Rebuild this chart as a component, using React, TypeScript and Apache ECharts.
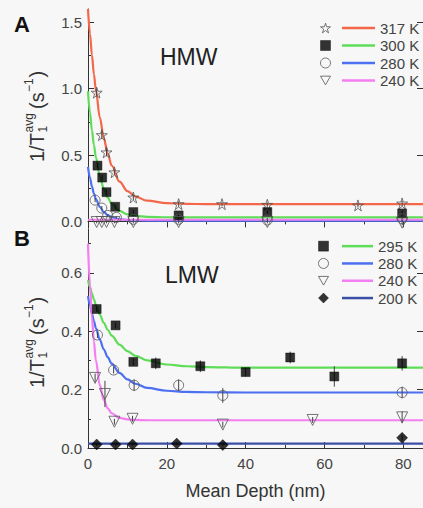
import React, { useEffect, useRef } from "react";
import * as echarts from "echarts";

// ---------- data ----------
// fitted curves
const fitX = [0, 0.5, 1, 1.5, 2, 3, 4, 5, 6, 8, 10, 12, 15, 20, 25, 30, 40, 60, 85];
const flatX = [0, 85];

const hmwFit317 = [1.6, 1.415, 1.252, 1.11, 0.987, 0.784, 0.628, 0.511, 0.421, 0.299, 0.228, 0.187, 0.156, 0.137, 0.132, 0.13, 0.13, 0.13, 0.13];
const hmwFit300 = [0.98, 0.819, 0.686, 0.575, 0.483, 0.343, 0.246, 0.179, 0.133, 0.079, 0.053, 0.041, 0.034, 0.031, 0.03, 0.03, 0.03, 0.03, 0.03];
const hmwFit280 = [0.41, 0.328, 0.262, 0.21, 0.168, 0.109, 0.071, 0.047, 0.031, 0.016, 0.009, 0.007, 0.006, 0.005, 0.005, 0.005, 0.005, 0.005, 0.005];
const hmwFit240 = [0.012, 0.012];

const lmwFit295 = [0.575, 0.551, 0.529, 0.509, 0.49, 0.457, 0.429, 0.405, 0.385, 0.354, 0.332, 0.316, 0.3, 0.286, 0.28, 0.277, 0.275, 0.275, 0.275];
const lmwFit280 = [0.52, 0.489, 0.46, 0.435, 0.411, 0.371, 0.338, 0.311, 0.289, 0.257, 0.235, 0.22, 0.206, 0.196, 0.192, 0.191, 0.19, 0.19, 0.19];
const lmwFit240 = [0.7, 0.557, 0.448, 0.364, 0.3, 0.215, 0.165, 0.136, 0.119, 0.103, 0.098, 0.096, 0.095, 0.095, 0.095, 0.095, 0.095, 0.095, 0.095];
const lmwFit200 = [0.015, 0.015];

// measured points, panel A (HMW)
const hmw317X = [2.2, 3.5, 4.7, 6.7, 11.5, 23, 34, 45.5, 68.5, 79.7];
const hmw317Y = [0.97, 0.65, 0.52, 0.37, 0.18, 0.13, 0.13, 0.125, 0.12, 0.135];
const hmw317E = [0.03, 0.03, 0.03, 0.02, 0.02, 0.02, 0.015, 0.015, 0.015, 0.02];
const hmw300X = [2.4, 3.6, 4.7, 6.9, 11.5, 23, 45.5, 79.7];
const hmw300Y = [0.42, 0.33, 0.22, 0.11, 0.07, 0.045, 0.07, 0.06];
const hmw300E = [0.02, 0.02, 0.02, 0.015, 0.015, 0.015, 0.015, 0.02];
const hmw280X = [1.8, 3.5, 5.0, 7.2, 11.5, 23, 45.5, 79.7];
const hmw280Y = [0.16, 0.1, 0.045, 0.03, 0.015, 0.015, 0.01, 0.02];
const hmw280E = [0.015, 0.015, 0.01, 0.01, 0.01, 0.01, 0.015, 0.02];
const hmw240X = [2.2, 3.5, 4.7, 6.7, 11.5, 23, 45.5, 79.7];
const hmw240Y = [-0.005, -0.005, -0.005, -0.005, -0.005, -0.005, -0.005, -0.01];
const hmw240E = [0.01, 0.01, 0.01, 0.01, 0.01, 0.01, 0.01, 0.02];

// measured points, panel B (LMW)
const lmw295X = [2.2, 7, 11.5, 17.2, 28.5, 40, 51.3, 62.5, 79.7];
const lmw295Y = [0.476, 0.42, 0.295, 0.29, 0.28, 0.26, 0.31, 0.245, 0.29];
const lmw295E = [0.01, 0.01, 0.012, 0.02, 0.02, 0.015, 0.02, 0.035, 0.025];
const lmw280X = [2.4, 6.5, 11.7, 23, 34.2, 79.7];
const lmw280Y = [0.387, 0.267, 0.215, 0.215, 0.18, 0.19];
const lmw280E = [0.01, 0.012, 0.02, 0.02, 0.025, 0.02];
const lmw240X = [1.8, 4.3, 6.7, 11.3, 34.2, 57, 79.7];
const lmw240Y = [0.24, 0.185, 0.09, 0.1, 0.08, 0.096, 0.105];
const lmw240E = [0.015, 0.045, 0.01, 0.01, 0.01, 0.01, 0.02];
const lmw200X = [2.2, 7, 11.3, 22.5, 34.2, 79.7];
const lmw200Y = [0.012, 0.012, 0.012, 0.015, 0.01, 0.035];
const lmw200E = [0.005, 0.005, 0.005, 0.005, 0.005, 0.01];

// ticks
const depthMajor = [0, 20, 40, 60, 80];
const depthTop = [20, 40, 60, 80];
const depthMinor = [10, 30, 50, 70];
const hmwMajor = [0, 0.5, 1.0, 1.5];
const hmwMinor = [0.25, 0.75, 1.25];
const lmwMajor = [0, 0.2, 0.4, 0.6];
const lmwMinor = [0.1, 0.3, 0.5, 0.7];

const hmwLegend = ["317 K", "300 K", "280 K", "240 K"];
const lmwLegend = ["295 K", "280 K", "240 K", "200 K"];

// ---------- styles ----------
const FONT = "'Liberation Sans', Arial, Helvetica, sans-serif";
const AX = "#333";
const LBL = "#444";
const BG = "#f6f7f6";
const RED = "#f4674a";
const GREEN = "#5fdc58";
const BLUE = "#4d6ff2";
const PINK = "#f47ef2";
const NAVY = "#3a4ea6";
const STAR = "path://M50,2 L61,37 L98,37 L68,59 L79,95 L50,73 L21,95 L32,59 L2,37 L39,37 Z";
const TRI_DOWN = "path://M0,0 L100,0 L50,87 Z";
const OPEN_STYLE = { color: "rgba(0,0,0,0)", borderColor: "#555", borderWidth: 1 };
const FILLED_STYLE = { color: "#000", borderColor: "#000", borderWidth: 0.5 };

const zip = (xs: number[], ys: number[]) => xs.map((x, i) => [x, ys[i]]);
const zip3 = (xs: number[], ys: number[], es: number[]) => xs.map((x, i) => [x, ys[i], es[i]]);

function fitLine(name: string, gi: number, xs: number[], ys: number[], color: string) {
  return {
    type: "line", name, xAxisIndex: gi, yAxisIndex: gi === 0 ? 0 : 2,
    data: zip(xs, ys), smooth: 0.35, smoothMonotone: "x", symbol: "none",
    lineStyle: { color, width: 2.2 }, itemStyle: { color }, z: 2, silent: true, clip: false,
  };
}

function points(name: string, gi: number, xs: number[], ys: number[], symbol: string, size: number, filled: boolean) {
  return {
    type: "scatter", name, xAxisIndex: gi, yAxisIndex: gi === 0 ? 0 : 2,
    data: zip(xs, ys), symbol, symbolSize: size, clip: false,
    itemStyle: filled ? FILLED_STYLE : OPEN_STYLE,
    z: 4, silent: true,
  };
}

function errBars(gi: number, xs: number[], ys: number[], es: number[]) {
  return {
    type: "custom", xAxisIndex: gi, yAxisIndex: gi === 0 ? 0 : 2,
    data: zip3(xs, ys, es), encode: { x: 0, y: 1 }, z: 3, silent: true, clip: false,
    renderItem: (params: any, api: any) => {
      const x = api.value(0), y = api.value(1), e = api.value(2);
      const p1 = api.coord([x, y - e]);
      const p2 = api.coord([x, y + e]);
      return {
        type: "line",
        shape: { x1: p1[0], y1: p1[1], x2: p2[0], y2: p2[1] },
        style: { stroke: "#444", lineWidth: 1 },
      };
    },
  };
}

function yTitle(cx: number, cy: number) {
  const t = (text: string, x: number, y: number, size: number) => ({
    type: "text", x, y,
    style: { text, font: `${size}px ${FONT}`, fill: "#333", verticalAlign: "middle", align: "left" },
  });
  return {
    type: "group", x: cx, y: cy + 46, rotation: Math.PI / 2,
    children: [
      t("1/T", 0, 0, 20),
      t("1", 29.5, 6, 12),
      t("avg", 29.5, -8, 12),
      t("(s", 53, 0, 20),
      t("\u22121", 70, -8, 12),
      t(")", 84.5, 0, 20),
    ],
  };
}

function symbolLegend(prefix: string, names: string[], icons: string[], open: boolean[], left: number, top: number, lh: number) {
  return {
    orient: "vertical", left, top, itemWidth: 10, itemHeight: 10, itemGap: 0, padding: 0,
    selectedMode: false, formatter: () => " ",
    textStyle: { fontSize: 15, lineHeight: lh, fontFamily: FONT },
    data: names.map((n, i) => ({
      name: prefix + n, icon: icons[i],
      itemStyle: open[i] ? OPEN_STYLE : FILLED_STYLE,
    })),
  };
}

function lineLegend(prefix: string, names: string[], left: number, top: number, w: number, lh: number) {
  return {
    orient: "vertical", left, top, itemWidth: w, itemHeight: 2.5, itemGap: 0, padding: 0,
    selectedMode: false, icon: "rect", itemStyle: { borderWidth: 0 },
    formatter: (n: string) => n.replace(/^(HMW|LMW) /, ""),
    textStyle: { fontSize: 15, lineHeight: lh, color: LBL, fontFamily: FONT },
    data: names.map((n) => prefix + n),
  };
}

const axisLineStyle = { show: true, lineStyle: { color: AX, width: 1 } };

export default function App() {
  const ref = useRef<HTMLDivElement>(null);
  useEffect(() => {
    if (!ref.current) return;
    const chart = echarts.init(ref.current, undefined, { renderer: "svg" });
    const gridA = { left: 88, top: 9, width: 340, height: 219 };
    const gridB = { left: 88, top: 229, width: 340, height: 219 };
    const baseX = { type: "value", min: 0, max: 85, splitLine: { show: false } };
    const option: any = {
      animation: false,
      backgroundColor: BG,
      textStyle: { fontFamily: FONT },
      grid: [gridA, gridB, { ...gridA }, { ...gridB }],
      xAxis: [
        { ...baseX, gridIndex: 0, position: "top", axisLine: axisLineStyle,
          axisTick: { show: true, inside: true, length: 6, customValues: depthTop, lineStyle: { color: AX } },
          axisLabel: { show: false } },
        { ...baseX, gridIndex: 1, position: "bottom", axisLine: axisLineStyle,
          axisTick: { show: true, inside: true, length: 6, customValues: depthMajor, lineStyle: { color: AX } },
          axisLabel: { show: true, customValues: depthMajor, margin: 8, fontSize: 15, color: LBL, fontFamily: FONT },
          name: "Mean Depth (nm)", nameLocation: "middle", nameGap: 34,
          nameTextStyle: { fontSize: 18, color: "#333", fontFamily: FONT } },
        { ...baseX, gridIndex: 2, position: "top", axisLine: { show: false },
          axisTick: { show: true, inside: true, length: 3, customValues: depthMinor, lineStyle: { color: AX } },
          axisLabel: { show: false } },
        { ...baseX, gridIndex: 3, position: "bottom", axisLine: { show: false },
          axisTick: { show: true, inside: true, length: 3, customValues: depthMinor, lineStyle: { color: AX } },
          axisLabel: { show: false } },
      ],
      yAxis: [
        { type: "value", gridIndex: 0, min: -0.05, max: 1.6, position: "left", axisLine: axisLineStyle, splitLine: { show: false },
          axisTick: { show: true, inside: true, length: 6, customValues: hmwMajor, lineStyle: { color: AX } },
          axisLabel: { show: true, customValues: hmwMajor, margin: 6, fontSize: 15, color: LBL, fontFamily: FONT,
            formatter: (v: number) => v.toFixed(1) } },
        { type: "value", gridIndex: 0, min: -0.05, max: 1.6, position: "right", axisLine: axisLineStyle, splitLine: { show: false },
          axisTick: { show: true, inside: true, length: 6, customValues: [0.5, 1.0, 1.5], lineStyle: { color: AX } },
          axisLabel: { show: false } },
        { type: "value", gridIndex: 1, min: 0, max: 0.75, position: "left", axisLine: axisLineStyle, splitLine: { show: false },
          axisTick: { show: true, inside: true, length: 6, customValues: lmwMajor, lineStyle: { color: AX } },
          axisLabel: { show: true, customValues: lmwMajor, margin: 6, fontSize: 15, color: LBL, fontFamily: FONT,
            formatter: (v: number) => v.toFixed(1) } },
        { type: "value", gridIndex: 1, min: 0, max: 0.75, position: "right", axisLine: axisLineStyle, splitLine: { show: false },
          axisTick: { show: true, inside: true, length: 6, customValues: [0.2, 0.4, 0.6], lineStyle: { color: AX } },
          axisLabel: { show: false } },
        { type: "value", gridIndex: 2, min: -0.05, max: 1.6, position: "left", axisLine: { show: false }, splitLine: { show: false },
          axisTick: { show: true, inside: true, length: 3, customValues: hmwMinor, lineStyle: { color: AX } },
          axisLabel: { show: false } },
        { type: "value", gridIndex: 3, min: 0, max: 0.75, position: "left", axisLine: { show: false }, splitLine: { show: false },
          axisTick: { show: true, inside: true, length: 3, customValues: lmwMinor, lineStyle: { color: AX } },
          axisLabel: { show: false } },
      ],
      legend: [
        symbolLegend("HMW pts ", hmwLegend, [STAR, "rect", "circle", TRI_DOWN], [true, false, true, true], 320, 19.25, 17.5),
        lineLegend("HMW ", hmwLegend, 342, 19.25, 33, 17.5),
        symbolLegend("LMW pts ", lmwLegend, ["rect", "circle", TRI_DOWN, "diamond"], [false, true, true, false], 318, 237.5, 17.3),
        lineLegend("LMW ", lmwLegend, 342, 237.5, 31, 17.3),
      ],
      graphic: [
        { type: "text", x: 14, y: 24, style: { text: "A", font: `bold 22px ${FONT}`, fill: "#111", verticalAlign: "middle" } },
        { type: "text", x: 14, y: 238, style: { text: "B", font: `bold 22px ${FONT}`, fill: "#111", verticalAlign: "middle" } },
        { type: "text", x: 160, y: 57, style: { text: "HMW", font: `23px ${FONT}`, fill: "#222", verticalAlign: "middle" } },
        { type: "text", x: 165, y: 275, style: { text: "LMW", font: `23px ${FONT}`, fill: "#222", verticalAlign: "middle" } },
        yTitle(37, 116),
        yTitle(37, 342),
      ],
      series: [
        fitLine("HMW 317 K", 0, fitX, hmwFit317, RED),
        fitLine("HMW 300 K", 0, fitX, hmwFit300, GREEN),
        fitLine("HMW 280 K", 0, fitX, hmwFit280, BLUE),
        fitLine("HMW 240 K", 0, flatX, hmwFit240, PINK),
        errBars(0, hmw317X, hmw317Y, hmw317E),
        errBars(0, hmw300X, hmw300Y, hmw300E),
        errBars(0, hmw280X, hmw280Y, hmw280E),
        errBars(0, hmw240X, hmw240Y, hmw240E),
        points("HMW pts 317 K", 0, hmw317X, hmw317Y, STAR, 11, false),
        points("HMW pts 300 K", 0, hmw300X, hmw300Y, "rect", 9, true),
        points("HMW pts 280 K", 0, hmw280X, hmw280Y, "circle", 10, false),
        points("HMW pts 240 K", 0, hmw240X, hmw240Y, TRI_DOWN, 11, false),

        fitLine("LMW 295 K", 1, fitX, lmwFit295, GREEN),
        fitLine("LMW 280 K", 1, fitX, lmwFit280, BLUE),
        fitLine("LMW 240 K", 1, fitX, lmwFit240, PINK),
        fitLine("LMW 200 K", 1, flatX, lmwFit200, NAVY),
        errBars(1, lmw295X, lmw295Y, lmw295E),
        errBars(1, lmw280X, lmw280Y, lmw280E),
        errBars(1, lmw240X, lmw240Y, lmw240E),
        errBars(1, lmw200X, lmw200Y, lmw200E),
        points("LMW pts 295 K", 1, lmw295X, lmw295Y, "rect", 9, true),
        points("LMW pts 280 K", 1, lmw280X, lmw280Y, "circle", 10, false),
        points("LMW pts 240 K", 1, lmw240X, lmw240Y, TRI_DOWN, 11, false),
        points("LMW pts 200 K", 1, lmw200X, lmw200Y, "diamond", 11, true),
      ],
    };
    chart.setOption(option);
    return () => chart.dispose();
  }, []);
  return (
    <div
      ref={ref}
      style={{ position: "fixed", left: 0, top: 0, width: 423, height: 508, background: BG }}
    />
  );
}
